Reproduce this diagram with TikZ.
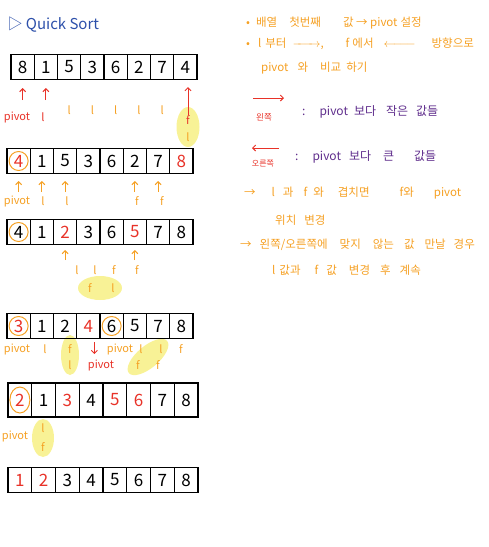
\documentclass[tikz,border=0pt]{standalone}
\usepackage{fontspec}
\setmainfont{Noto Sans CJK KR}
\usepackage{xcolor}
\usepackage{tikz}
\usetikzlibrary{arrows.meta,positioning,calc}

\definecolor{penorange}{RGB}{245,160,35}
\definecolor{penred}{RGB}{232,50,40}
\definecolor{penpurple}{RGB}{95,45,140}
\definecolor{penblue}{RGB}{45,80,170}
\definecolor{marker}{RGB}{248,242,150}

\begin{document}
\begin{tikzpicture}[x=1pt,y=-1pt,
    cell/.style={draw,line width=1.1pt,minimum width=23.25pt,minimum height=25pt,inner sep=0pt,font=\fontsize{17}{17}\selectfont},
    lbl/.style={font=\fontsize{11}{11}\selectfont,inner sep=0pt,text=penorange},
    note/.style={font=\fontsize{11.5}{12}\selectfont,anchor=west,inner sep=0pt,text=penorange},
    legend/.style={font=\fontsize{12}{12}\selectfont,anchor=west,inner sep=0pt,text=penpurple},
    uparr/.style={-{Straight Barb[length=3pt,width=6pt]},line width=1pt},
    ring/.style={draw=penorange,line width=1pt},
    hl/.style={fill=marker}]
    \useasboundingbox (0,0) rectangle (489,547);

    % marker highlights
    \fill[hl] (188,127) ellipse (11.5 and 20);
    \fill[hl] (100,288) ellipse (22 and 12);
    \fill[hl] (70,355) ellipse (9 and 20);
    \fill[hl,rotate around={40:(148,357)}] (148,357) ellipse (25 and 11);
    \fill[hl] (43,438) ellipse (11 and 19);

    % title
    \node[anchor=west,font=\fontsize{15}{15}\selectfont,text=penblue] (title) at (4,25) {▷ Quick Sort};

    % Array 1
    \foreach \v/\c [count=\i] in {8/black,1/black,5/black,3/black,6/black,2/black,7/black,4/black}
        \node[cell,text=\c] (a1-\i) at ({11+23.25*(\i-0.5)},67) {\v};
    \draw[uparr,penred] ([yshift=-20pt]a1-1.south) -- ([yshift=-8pt]a1-1.south);
    \draw[uparr,penred] ([yshift=-20pt]a1-2.south) -- ([yshift=-8pt]a1-2.south);
    \node[lbl,text=penred] (p1) at (17,117) {pivot};
    \node[lbl,text=penred] (l1-2) at (43,117) {l};
    \foreach \i in {3,...,7}
        \node[lbl] (l1-\i) at ({11+23.25*(\i-0.5)},110) {l};
    \node[lbl,text=penred] (f1) at (188,120) {f};
    \node[lbl] (l1-8) at (188,137) {l};
    \draw[uparr,penred] (f1.north) -- ([yshift=-7pt]a1-8.south -| f1.north);

    % Array 2
    \foreach \v/\c [count=\i] in {4/penred,1/black,5/black,3/black,6/black,2/black,7/black,8/penred}
        \node[cell,text=\c] (a2-\i) at ({7+23.25*(\i-0.5)},161) {\v};
    \draw[ring] (a2-1) circle (9.5);
    \foreach \i in {1,2,3,6,7}
        \draw[uparr,penorange] ([yshift=-18pt]a2-\i.south) -- ([yshift=-7pt]a2-\i.south);
    \node[lbl] (p2) at (17,201) {pivot};
    \node[lbl] (l2-2) at (43,201) {l};
    \node[lbl] (l2-3) at (67,201) {l};
    \node[lbl] (f2-6) at (137,201) {f};
    \node[lbl] (f2-7) at (162,201) {f};

    % Array 3
    \foreach \v/\c [count=\i] in {4/black,1/black,2/penred,3/black,6/black,5/penred,7/black,8/black}
        \node[cell,text=\c] (a3-\i) at ({7+23.25*(\i-0.5)},232) {\v};
    \draw[ring] (a3-1) circle (9.5);
    \foreach \i in {3,6}
        \draw[uparr,penorange] ([yshift=-15pt]a3-\i.south) -- ([yshift=-5pt]a3-\i.south);
    \node[lbl] (l3-a) at (77,270) {l};
    \node[lbl] (l3-b) at (95,270) {l};
    \node[lbl] (f3-a) at (114,270) {f};
    \node[lbl] (f3-b) at (137,270) {f};
    \node[lbl] (f3-c) at (90,288) {f};
    \node[lbl] (l3-c) at (113,288) {l};

    % Array 4
    \foreach \v/\c [count=\i] in {3/penred,1/black,2/black,4/penred,6/black,5/black,7/black,8/black}
        \node[cell,text=\c] (a4-\i) at ({7+23.25*(\i-0.5)},326) {\v};
    \draw[ring] (a4-1) circle (9.5);
    \draw[ring] (a4-5) circle (9.5);
    \draw[uparr,penred] ([xshift=6pt,yshift=-3pt]a4-4.south) -- ([xshift=6pt,yshift=-15pt]a4-4.south);
    \node[lbl] (p4-a) at (17,349) {pivot};
    \node[lbl] (l4-a) at (45,349) {l};
    \node[lbl] (f4-a) at (70,349) {f};
    \node[lbl] (p4-b) at (120,349) {pivot};
    \node[lbl] (l4-b) at (141,349) {l};
    \node[lbl] (l4-c) at (161,349) {l};
    \node[lbl] (f4-b) at (181,349) {f};
    \node[lbl] (l4-d) at (70,365) {l};
    \node[lbl,text=penred] (p4-c) at (101,365) {pivot};
    \node[lbl] (f4-c) at (138,365) {f};
    \node[lbl] (f4-d) at (158,365) {f};

    % Array 5
    \foreach \v/\c [count=\i] in {2/penred,1/black,3/penred,4/black,5/penred,6/penred,7/black,8/black}
        \node[cell,text=\c,minimum width=23.75pt,minimum height=34pt] (a5-\i) at ({8+23.75*(\i-0.5)},400) {\v};
    \draw[ring] (a5-1) ellipse (10 and 13);
    \node[lbl] (p5) at (15,436) {pivot};
    \node[lbl] (l5) at (43,428) {l};
    \node[lbl] (f5) at (43,447) {f};

    % Array 6
    \foreach \v/\c [count=\i] in {1/penred,2/penred,3/black,4/black,5/black,6/black,7/black,8/black}
        \node[cell,text=\c,minimum width=23.75pt] (a6-\i) at ({8+23.75*(\i-0.5)},480) {\v};

    % notes
    \node[note] (n1) at (246,23) {•\hspace{6pt}배열\hspace{12pt}첫번째\hspace{22pt}값 → pivot\hspace{3pt}설정};
    \node[note] (n2) at (246,44) {•\hspace{8pt}l\hspace{4pt}부터\hspace{6pt}\makebox[28pt]{\rightarrowfill},\hspace{22pt}f\hspace{3pt}에서\hspace{10pt}\makebox[32pt]{\leftarrowfill}\hspace{16pt}방향으로};
    \node[note] (n3) at (261,68) {pivot\hspace{9pt}와\hspace{12pt}비교\hspace{5pt}하기};

    % legend
    \coordinate (lg1a) at (253,98);
    \coordinate (lg1b) at (284,98);
    \draw[uparr,penred] (lg1a) -- (lg1b);
    \node[font=\fontsize{8.5}{8.5}\selectfont,text=penred] (left) at (264,117) {왼쪽};
    \node[legend] (lt) at (302,112) {:\hspace{14pt}pivot\hspace{6pt}보다\hspace{10pt}작은\hspace{8pt}값들};
    \coordinate (lg2a) at (279,148);
    \coordinate (lg2b) at (252,148);
    \draw[uparr,penred] (lg2a) -- (lg2b);
    \node[font=\fontsize{8}{8}\selectfont,text=penred] (right) at (263,164) {오른쪽};
    \node[legend] (rt) at (295,157) {:\hspace{14pt}pivot\hspace{8pt}보다\hspace{12pt}큰\hspace{20pt}값들};

    % rules
    \node[note] (r1) at (244,193) {→\hspace{16pt}l\hspace{8pt}과\hspace{10pt}f\hspace{6pt}와\hspace{14pt}겹치면\hspace{30pt}f와\hspace{20pt}pivot};
    \node[note] (r2) at (275,220) {위치\hspace{8pt}변경};
    \node[note] (r3) at (240,245) {→\hspace{8pt}왼쪽/오른쪽에\hspace{12pt}맞지\hspace{12pt}않는\hspace{10pt}값\hspace{10pt}만날\hspace{8pt}경우};
    \node[note] (r4) at (272,270) {l\hspace{4pt}값과\hspace{14pt}f\hspace{8pt}값\hspace{12pt}변경\hspace{10pt}후\hspace{9pt}계속};
\end{tikzpicture}
\end{document}
